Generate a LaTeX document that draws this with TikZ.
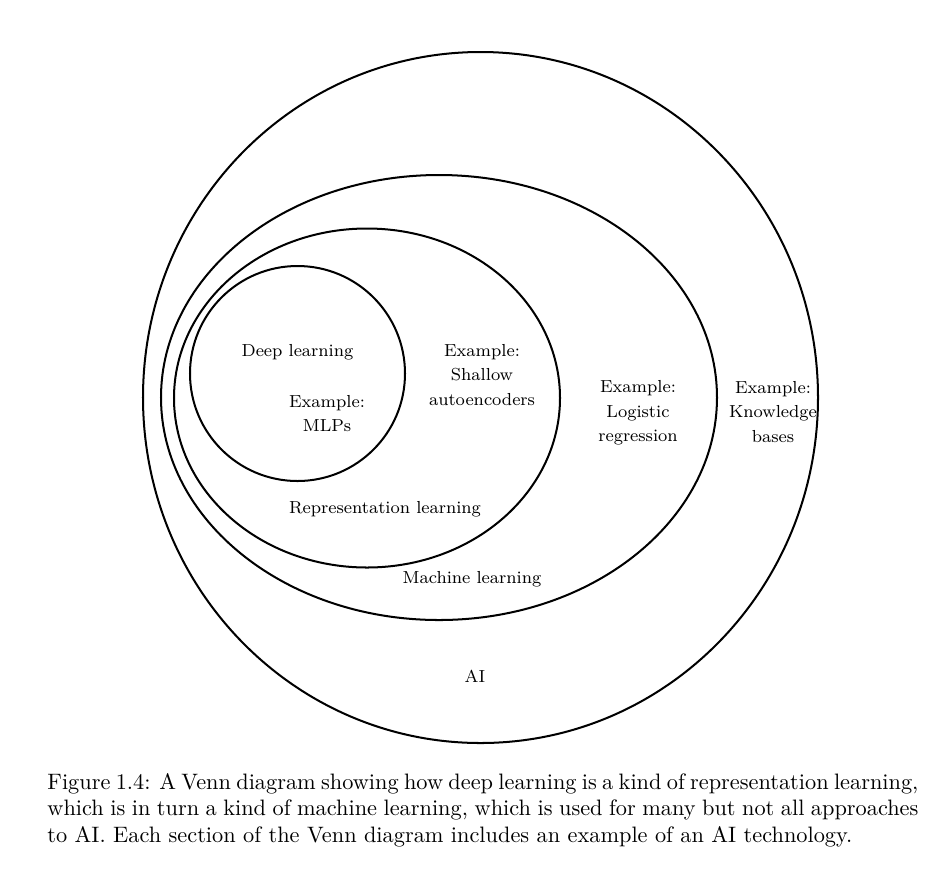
\documentclass[tikz,border=0pt]{standalone}
\begin{document}
\begin{tikzpicture}[x=0.448pt,y=-0.448pt,
  setline/.style={line width=0.9pt},
  lbl/.style={font=\fontsize{7.8}{11}\selectfont, align=center, inner sep=0pt},
  captext/.style={font=\fontsize{10}{12}\selectfont, text width=390.2pt, align=justify, inner sep=0pt}]
\useasboundingbox (0,0) rectangle (941,874);

% centres of the nested sets
\coordinate (ai) at (480.5,397.5);
\coordinate (ml) at (439,397.5);
\coordinate (rl) at (367,398);
\coordinate (dl) at (297.5,373.5);

\draw[setline] (ai) ellipse [x radius=337.5, y radius=345.5];
\draw[setline] (ml) ellipse [x radius=278, y radius=222.5];
\draw[setline] (rl) ellipse [x radius=193, y radius=169.5];
\draw[setline] (dl) ellipse [x radius=107.5, y radius=107.5];

% set names
\node[lbl, anchor=base] (dlname) at (297.5,356) {Deep learning};
\node[lbl, anchor=base] (rlname) at (385,513) {Representation learning};
\node[lbl, anchor=base] (mlname) at (472,583) {Machine learning};
\node[lbl, anchor=base] (ainame) at (475,682) {AI};

% one example per region
\node[lbl] (exdl) at (327,413.5) {Example:\\MLPs};
\node[lbl] (exrl) at (482,375) {Example:\\Shallow\\autoencoders};
\node[lbl] (exml) at (638,413) {Example:\\Logistic\\regression};
\node[lbl] (exai) at (773,412) {Example:\\Knowledge\\bases};

% caption
\node[captext, anchor=base west] (caption) at (47,789) {Figure 1.4: A Venn diagram showing how deep learning is a kind of representation learning,\linebreak which is in turn a kind of machine learning, which is used for many but not all approaches\linebreak to AI. Each section of the Venn diagram includes an example of an AI technology.};
\end{tikzpicture}
\end{document}
